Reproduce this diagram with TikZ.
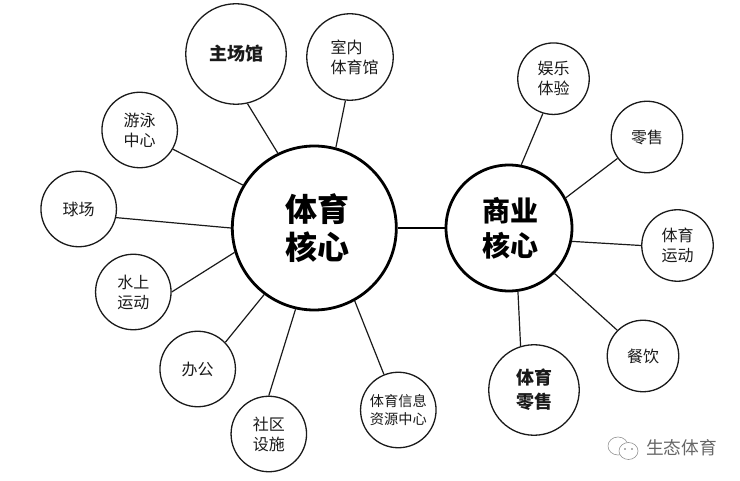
\documentclass[tikz,border=0pt]{standalone}
\usepackage{fontspec}
\setmainfont{Noto Sans CJK SC}
\usepackage{tikz}
\definecolor{inkblack}{HTML}{1A1A1A}
\definecolor{markgray}{HTML}{666666}
\tikzset{
  x=1pt, y=-1pt,
  topic/.style={circle, draw=inkblack, line width=1.3pt, fill=white, inner sep=0pt, align=center, minimum size=75.5pt, font=\fontsize{16}{20}\selectfont, text=inkblack},
  small topic/.style={topic, minimum size=71.5pt},
  core/.style={circle, draw=black, line width=2.8pt, fill=white, inner sep=0pt, align=center, text=black},
  spoke/.style={draw=inkblack, line width=1.2pt}
}
\begin{document}
\begin{tikzpicture}
    \useasboundingbox (0,0) rectangle (740,481);
    % cores
    \node[core, minimum size=164pt, font=\fontsize{32}{38}\selectfont\bfseries] (sports) at (314.3,228) {\hspace*{7pt}体育\\\hspace*{7pt}核心};
    \node[core, minimum size=126pt, font=\fontsize{28}{35}\selectfont\bfseries] (retail) at (509,228) {\hspace*{3pt}商业\\\hspace*{3pt}核心};
    % left ring
    \node[topic, minimum size=100.5pt, font=\fontsize{18}{22}\selectfont\bfseries] (arena) at (236,54) {主场馆};
    \node[topic, minimum size=86.5pt, align=left] (indoor) at (350,57) {\hspace*{9pt}室内\\\hspace*{9pt}体育馆};
    \node[topic] (swim) at (139.7,130) {游泳\\中心};
    \node[topic] (court) at (78.7,209) {球场};
    \node[topic] (water) at (133.3,292) {水上\\运动};
    \node[topic] (office) at (197.7,369) {办公};
    \node[topic] (community) at (268.8,434) {社区\\设施};
    \node[topic, font=\fontsize{14.2}{17.5}\selectfont] (info) at (398.3,410) {体育信息\\资源中心};
    % right ring
    \node[small topic] (fun) at (553.5,78.7) {娱乐\\体验};
    \node[small topic] (shop) at (647,137) {零售};
    \node[small topic] (sport) at (677.5,245.5) {体育\\运动};
    \node[small topic] (food) at (643,356) {餐饮};
    \node[topic, minimum size=90.5pt, font=\fontsize{18}{24}\selectfont\bfseries] (store) at (534,390) {体育\\零售};
    % spokes
    \foreach \a/\p/\b/\q in {sports/116.6/arena/283, sports/75.7/indoor/264.5, sports/149.5/swim/330, sports/180/court/347,
                             sports/197/water/0, sports/233/office/44, sports/257.4/community/90, sports/299.3/info/112.6,
                             retail/79.6/fun/253.6, retail/28.9/shop/216.9, retail/-12.8/sport/180, retail/-45/food/135, retail/-82.8/store/107.3}
      \draw[spoke] (\a.\p) -- (\b.\q);
    \draw[draw=black, line width=2.6pt] (sports.east) -- (retail.west);
    % watermark
    \begin{scope}[draw=markgray!70, line width=0.6pt]
      \draw (618,446) ellipse [x radius=10, y radius=9];
      \draw[fill=white] (628.5,451) ellipse [x radius=9.5, y radius=8.5];
      \fill[markgray] (625,449) circle (0.9) (632,449) circle (0.9);
    \end{scope}
    \node[text=markgray, font=\fontsize{17.7}{20}\selectfont, anchor=west, inner sep=0pt] (mark) at (646,448) {生态体育};
\end{tikzpicture}
\end{document}
